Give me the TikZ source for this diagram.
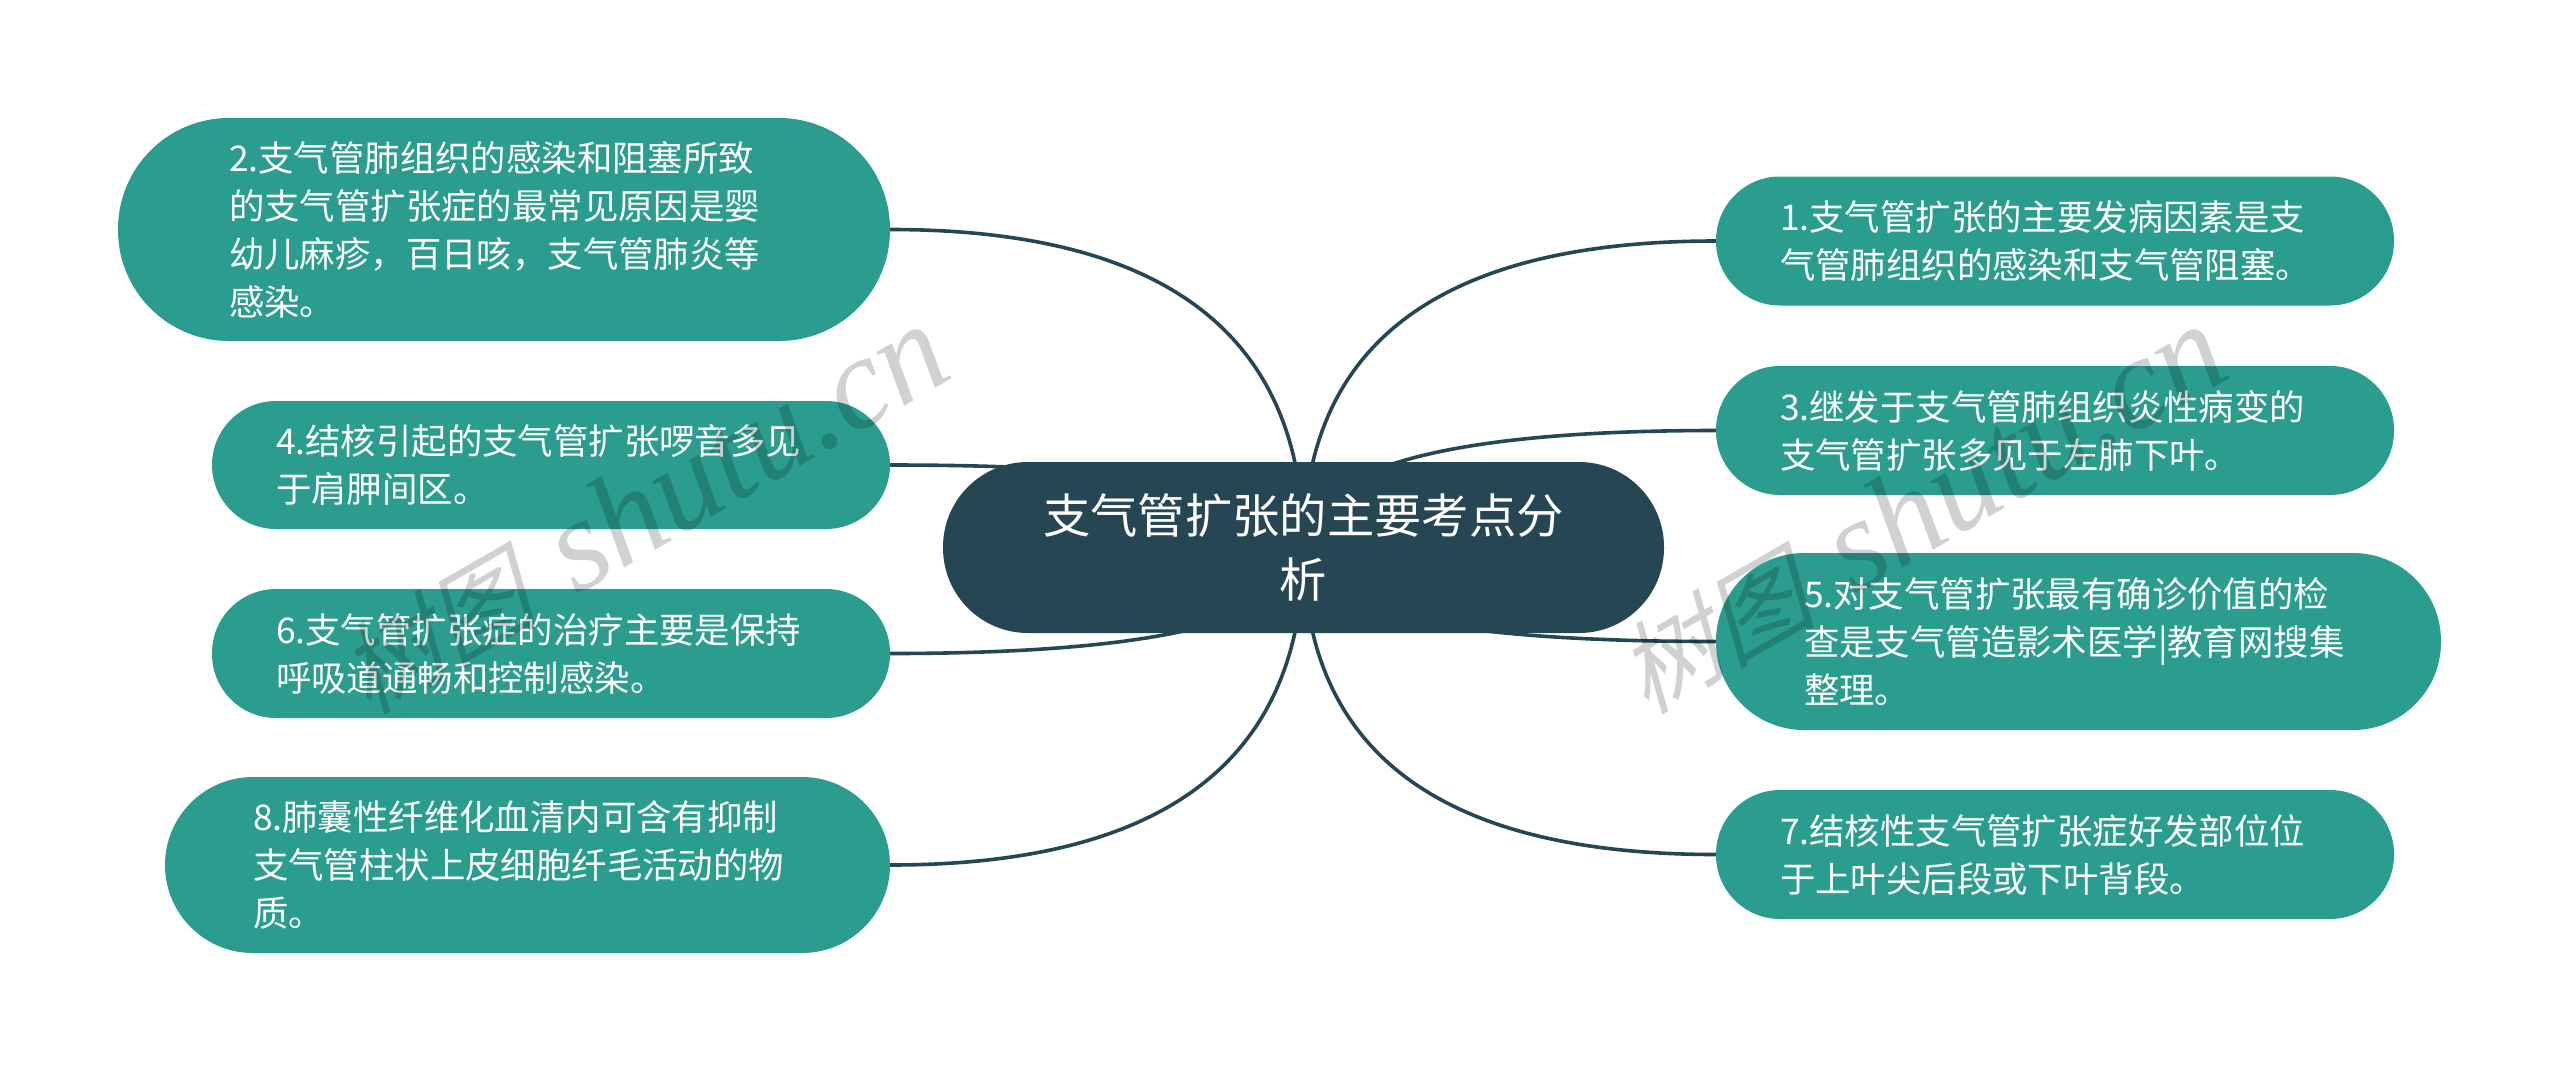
\documentclass[tikz,border=0pt]{standalone}
\usepackage{fontspec}
\usepackage{xcolor}
\usepackage{tikz}
\usetikzlibrary{calc,backgrounds}
\newfontfamily\cjk{Noto Sans CJK SC}
\newfontfamily\cjkslant[FakeSlant=0.25]{Noto Sans CJK SC}
\newfontfamily\markfont{Liberation Serif}
\definecolor{rootcol}{HTML}{264653}
\definecolor{leafcol}{HTML}{2A9D8F}
\newcommand{\marktext}{{\fontsize{100}{100}\selectfont\cjkslant 树图}\hspace{40pt}{\fontsize{131}{131}\selectfont\markfont\itshape shutu.cn}}
\tikzset{
    leaf/.style={fill=leafcol, text=white, inner sep=0pt, align=left, font=\cjk\fontsize{35.4}{48}\selectfont},
    root/.style={fill=rootcol, text=white, inner sep=0pt, align=center, font=\cjk\fontsize{47.3}{64}\selectfont},
    branch/.style={draw=rootcol, line width=3.6pt},
    watermark/.style={text=black, opacity=0.18, rotate=30, inner sep=0pt, anchor=base west}
}
\begin{document}
\begin{tikzpicture}[x=1pt, y=-1pt]
    \useasboundingbox (0, 0) rectangle (2560, 1072);
    % left side
    \node [leaf, minimum width=772pt, minimum height=223pt, rounded corners=111pt, text width=550pt] (two) at (504, 229.5) {2.支气管肺组织的感染和阻塞所致\\的支气管扩张症的最常见原因是婴\\幼儿麻疹，百日咳，支气管肺炎等\\感染。};
    \node [leaf, minimum width=678pt, minimum height=128pt, rounded corners=64pt, text width=550pt] (four) at (551, 465) {4.结核引起的支气管扩张啰音多见\\于肩胛间区。};
    \node [leaf, minimum width=678pt, minimum height=129pt, rounded corners=64pt, text width=550pt] (six) at (551, 653.5) {6.支气管扩张症的治疗主要是保持\\呼吸道通畅和控制感染。};
    \node [leaf, minimum width=725pt, minimum height=176pt, rounded corners=88pt, text width=549pt] (eight) at (527.5, 865) {8.肺囊性纤维化血清内可含有抑制\\支气管柱状上皮细胞纤毛活动的物\\质。};
    % right side
    \node [leaf, minimum width=678pt, minimum height=129pt, rounded corners=64pt, text width=550pt] (one) at (2055, 241) {1.支气管扩张的主要发病因素是支\\气管肺组织的感染和支气管阻塞。};
    \node [leaf, minimum width=678pt, minimum height=129pt, rounded corners=64pt, text width=550pt] (three) at (2055, 430.5) {3.继发于支气管肺组织炎性病变的\\支气管扩张多见于左肺下叶。};
    \node [leaf, minimum width=725pt, minimum height=177pt, rounded corners=88pt, text width=549pt] (five) at (2078.5, 641.5) {5.对支气管扩张最有确诊价值的检\\查是支气管造影术医学|教育网搜集\\整理。};
    \node [leaf, minimum width=678pt, minimum height=129pt, rounded corners=64pt, text width=550pt] (seven) at (2055, 854.5) {7.结核性支气管扩张症好发部位位\\于上叶尖后段或下叶背段。};
    % centre
    \node [root, minimum width=721pt, minimum height=171pt, rounded corners=85pt, text width=551pt] (centre) at (1303.5, 547.5) {支气管扩张的主要考点分\\析};
    % branches
    \begin{scope}[on background layer]
        \foreach \a in {two,four,six,eight} {
            \coordinate (bend) at (centre.center |- \a.east);
            \draw [branch] (\a.east) .. controls ($(\a.east)!0.667!(bend)$) and ($(centre.center)!0.667!(bend)$) .. (centre.center);
        }
        \foreach \a in {one,three,five,seven} {
            \coordinate (bend) at (centre.center |- \a.west);
            \draw [branch] (\a.west) .. controls ($(\a.west)!0.667!(bend)$) and ($(centre.center)!0.667!(bend)$) .. (centre.center);
        }
    \end{scope}
    % watermarks
    \node [watermark] (markleft) at (368, 716) {\marktext};
    \node [watermark] (markright) at (1646, 716) {\marktext};
\end{tikzpicture}
\end{document}
